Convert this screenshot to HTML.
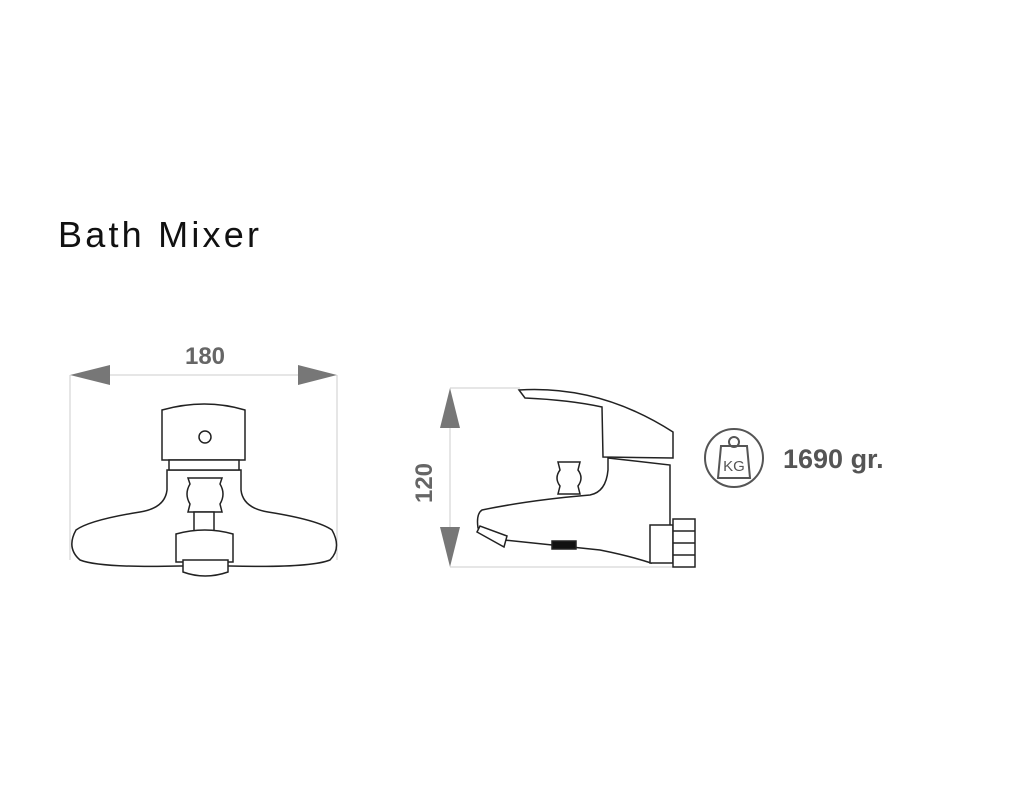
<!DOCTYPE html>
<html><head><style>
body{margin:0;background:#fff;}
svg{display:block;}
text{font-family:"Liberation Sans",sans-serif;}
</style></head><body>
<svg width="1024" height="797" viewBox="0 0 1024 797" xmlns="http://www.w3.org/2000/svg">
<text x="58" y="247" font-size="36" fill="#111" textLength="201" lengthAdjust="spacing">Bath Mixer</text>

<!-- front view -->
<g stroke="#ccc" stroke-width="1" fill="none">
<line x1="70" y1="375" x2="70" y2="560"/><line x1="337" y1="375" x2="337" y2="560"/>
<line x1="100" y1="375" x2="305" y2="375"/>
</g>
<polygon points="70,375 110,365 110,385" fill="#777"/>
<polygon points="337,375 298,365 298,385" fill="#777"/>
<text x="205" y="364" font-size="24" fill="#666" font-weight="bold" text-anchor="middle">180</text>
<g stroke="#222" stroke-width="1.5" fill="#fff">
<path d="M167,470 L167,490 Q165,508 140,512 Q90,520 76,530 Q66,548 80,560 Q100,568 180,566 L230,566 Q310,568 330,560 Q342,548 332,530 Q318,520 268,512 Q243,508 241,490 L241,470 Z"/>
<path d="M162,410 Q205,398 245,410 L245,460 L162,460 Z"/>
<circle cx="205" cy="437" r="6"/>
<rect x="169" y="460" width="70" height="10"/>
<path d="M188,478 L222,478 L220,484 Q226,494 220,504 L222,512 L188,512 L190,504 Q184,494 190,484 Z"/>
<rect x="194" y="512" width="20" height="20"/>
<path d="M176,534 Q205,526 233,534 L233,562 L176,562 Z"/>
<path d="M183,560 L228,560 L228,572 Q205,580 183,572 Z"/>
</g>

<!-- side view -->
<g stroke="#ccc" stroke-width="1" fill="none">
<line x1="450" y1="388" x2="520" y2="388"/><line x1="450" y1="567" x2="690" y2="567"/>
<line x1="450" y1="420" x2="450" y2="535"/>
</g>
<polygon points="450,388 440,428 460,428" fill="#777"/>
<polygon points="450,567 440,527 460,527" fill="#777"/>
<text transform="translate(432,483) rotate(-90)" font-size="24" font-weight="bold" fill="#666" text-anchor="middle">120</text>
<g stroke="#222" stroke-width="1.5" fill="#fff">
<path d="M608,458 L608,470 Q606,492 590,495 Q530,500 482,510 Q476,514 478,528 L504,540 Q560,546 600,550 Q630,556 651,563 L651,527 L670,527 L670,465 Z"/>
<path d="M477,532 L480,526 L507,536 L504,547 Z"/>
<rect x="552" y="541" width="24" height="8" fill="#111"/>
<rect x="650" y="525" width="23" height="38"/>
<rect x="673" y="519" width="22" height="48"/>
<line x1="673" y1="531" x2="695" y2="531"/><line x1="673" y1="543" x2="695" y2="543"/><line x1="673" y1="555" x2="695" y2="555"/>
<path d="M519,390 Q600,385 673,432 L673,458 L603,457 L602,407 Q570,400 525,398 Z"/>
<path d="M558,462 L580,462 L578,470 Q584,478 578,486 L580,494 L558,494 L560,486 Q554,478 560,470 Z"/>
</g>

<!-- weight -->
<g stroke="#555" stroke-width="2" fill="none">
<circle cx="734" cy="458" r="29"/>
<circle cx="734" cy="442" r="5"/>
<path d="M721,446 L747,446 L750,478 L718,478 Z"/>
</g>
<text x="734" y="471" font-size="15" fill="#555" text-anchor="middle">KG</text>
<text x="783" y="468" font-size="27" font-weight="bold" fill="#555">1690 gr.</text>
</svg>
</body></html>
